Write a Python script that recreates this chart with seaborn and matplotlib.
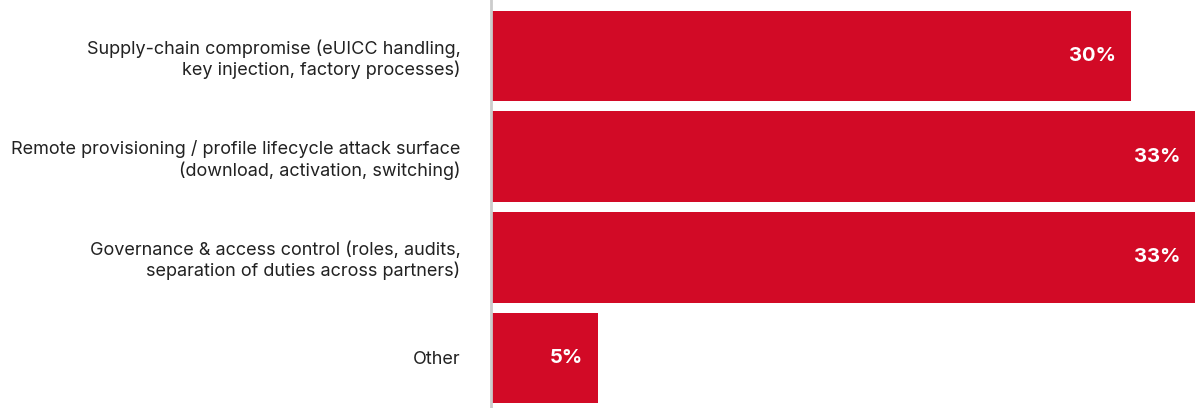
import matplotlib
matplotlib.use("Agg")
import matplotlib.pyplot as plt
import seaborn as sns
import pandas as pd

categories = [
    "Supply-chain compromise (eUICC handling,\nkey injection, factory processes)",
    "Remote provisioning / profile lifecycle attack surface\n(download, activation, switching)",
    "Governance & access control (roles, audits,\nseparation of duties across partners)",
    "Other",
]
values = [30, 33, 33, 5]
value_labels = ["30%", "33%", "33%", "5%"]

BAR_COLOR = "#D20A26"

sns.set_theme(style="white")
plt.rcParams["font.family"] = ["Inter", "DejaVu Sans"]

df = pd.DataFrame({"category": categories, "value": values})

fig = plt.figure(figsize=(11.95, 4.08), dpi=100)
ax = fig.add_axes([491 / 1195, 0.0, 704 / 1195, 1.0])

sns.barplot(data=df, x="value", y="category", orient="h", color=BAR_COLOR,
            saturation=1, width=0.9, linewidth=0, ax=ax)

ax.set_xlim(0, 33)
ax.set_ylim(3.497, -0.556)
ax.set_xlabel("")
ax.set_ylabel("")
ax.set_xticks([])
ax.tick_params(axis="y", length=0, pad=22, labelsize=13, labelcolor="#222222")
for lbl in ax.get_yticklabels():
    lbl.set_horizontalalignment("right")
    lbl.set_multialignment("right")
    lbl.set_linespacing(1.2)

for side in ["top", "right", "bottom"]:
    ax.spines[side].set_visible(False)
ax.spines["left"].set_color("#cccccc")
ax.spines["left"].set_linewidth(2)

for i, (v, lab) in enumerate(zip(values, value_labels)):
    ax.annotate(lab, xy=(v, i), xytext=(-10.5, 0), textcoords="offset points",
                ha="right", va="center", color="white", fontsize=14.5,
                fontweight="bold")

fig.savefig("out.png", dpi=100)
